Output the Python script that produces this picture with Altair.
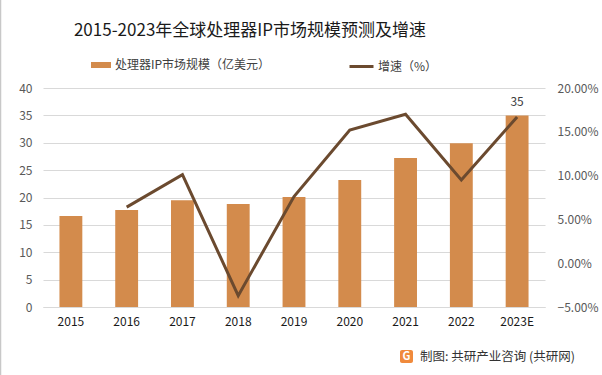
import altair as alt
import pandas as pd

years = ["2015", "2016", "2017", "2018", "2019", "2020", "2021", "2022", "2023E"]
market_size = [16.6, 17.7, 19.5, 18.8, 20.1, 23.2, 27.2, 29.9, 35.0]
growth_pct = [None, 6.4, 10.1, -3.7, 7.6, 15.2, 17.0, 9.5, 16.7]
left_ticks = [0, 5, 10, 15, 20, 25, 30, 35, 40]
right_ticks = [-5, 0, 5, 10, 15, 20]

title_text = "2015-2023年全球处理器IP市场规模预测及增速"
bar_series = "处理器IP市场规模（亿美元）"
line_series = "增速（%）"
source_text = "制图: 共研产业咨询 (共研网)"

FONT = "Noto Sans CJK SC"
BAR_COLOR = "#D38B4C"
LINE_COLOR = "#6B4A2F"

df = pd.DataFrame({"year": years, "size": market_size, "growth": growth_pct})

x_axis = alt.Axis(
    title="",
    labelAngle=0,
    labelColor="#1a1a1a",
    labelFontSize=12,
    labelFont=FONT,
    labelPadding=9,
    ticks=False,
    domainColor="#D9D9D9",
    grid=False,
)
x_scale = alt.Scale(paddingInner=0.59, paddingOuter=0.295)

left_axis = alt.Axis(
    title="",
    values=left_ticks,
    grid=True,
    gridColor="#D9D9D9",
    domain=False,
    ticks=False,
    labelOverlap=False,
    labelColor="#595959",
    labelFontSize=12,
    labelFont=FONT,
    labelPadding=11,
)
left_scale = alt.Scale(domain=[0, 40], nice=False)

base = alt.Chart(df)

bars = base.mark_bar(color=BAR_COLOR).transform_calculate(series=f"'{bar_series}'").encode(
    x=alt.X("year:N", sort=years, scale=x_scale, axis=x_axis),
    y=alt.Y("size:Q", scale=left_scale, axis=left_axis),
    fill=alt.Fill(
        "series:N",
        scale=alt.Scale(domain=[bar_series], range=[BAR_COLOR]),
        legend=alt.Legend(
            title="",
            orient="none",
            legendX=48,
            legendY=-33,
            symbolType="M-1,-0.3H1V0.3H-1Z",
            symbolSize=400,
            symbolStrokeWidth=0,
            labelFont=FONT,
            labelFontSize=12,
            labelColor="#404040",
            labelOffset=4,
            padding=0,
        ),
    ),
)

bar_label = base.transform_filter("datum.year == '2023E'").mark_text(
    baseline="bottom", dy=-6, fontSize=12, font=FONT, color="#404040"
).encode(
    x=alt.X("year:N", sort=years, scale=x_scale, axis=x_axis),
    y=alt.Y("size:Q", scale=left_scale, axis=left_axis),
    text=alt.Text("size:Q", format=".0f"),
)

left_layer = alt.layer(bars, bar_label)

line = base.transform_filter("datum.growth != null").transform_calculate(
    series=f"'{line_series}'"
).mark_line(strokeWidth=3, color=LINE_COLOR).encode(
    x=alt.X("year:N", sort=years, scale=x_scale, axis=x_axis),
    y=alt.Y(
        "growth:Q",
        scale=alt.Scale(domain=[-5, 20], nice=False),
        axis=alt.Axis(
            title="",
            orient="right",
            values=right_ticks,
            grid=False,
            domain=False,
            ticks=False,
            labelOverlap=False,
            labelColor="#595959",
            labelFontSize=12,
            labelFont=FONT,
            labelPadding=12,
            labelExpr="format(datum.value, '.2f') + '%'",
        ),
    ),
    stroke=alt.Stroke(
        "series:N",
        scale=alt.Scale(domain=[line_series], range=[LINE_COLOR]),
        legend=alt.Legend(
            title="",
            orient="none",
            legendX=305,
            legendY=-35,
            symbolType="stroke",
            symbolSize=576,
            symbolStrokeWidth=3,
            labelFont=FONT,
            labelFontSize=12,
            labelColor="#404040",
            labelOffset=3,
            padding=0,
        ),
    ),
)

title_mark = alt.Chart(pd.DataFrame({"t": [title_text]})).mark_text(
    fontSize=17, font=FONT, color="#1a1a1a", align="center", baseline="middle"
).encode(text="t:N", x=alt.value(207), y=alt.value(-57))

source_mark = alt.Chart(pd.DataFrame({"t": [source_text]})).mark_text(
    fontSize=12.5, font=FONT, color="#333333", align="left", baseline="middle"
).encode(text="t:N", x=alt.value(377), y=alt.value(269))

logo_box = alt.Chart(pd.DataFrame({"t": ["G"]})).mark_rect(
    color="#F08A3C", cornerRadius=2
).encode(x=alt.value(357), x2=alt.value(370), y=alt.value(262), y2=alt.value(275))

logo_text = alt.Chart(pd.DataFrame({"t": ["G"]})).mark_text(
    fontSize=11, font=FONT, fontWeight="bold", color="white", align="center", baseline="middle"
).encode(text="t:N", x=alt.value(363.5), y=alt.value(269))

border = alt.Chart(pd.DataFrame({"t": [""]})).mark_rule(color="#C8C8C8", strokeWidth=1.5).encode(
    x=alt.value(-42.5), y=alt.value(-88), y2=alt.value(287)
)

chart = (
    alt.layer(left_layer, line, title_mark, source_mark, logo_box, logo_text, border)
    .resolve_scale(y="independent")
    .properties(
        width=502,
        height=219,
        autosize=alt.AutoSizeParams(type="none"),
        padding={"left": 43, "top": 88, "right": 57, "bottom": 68},
        background="white",
    )
    .configure_view(stroke=None)
)

chart.save("out.html", embed_options={"renderer": "svg", "actions": False})
